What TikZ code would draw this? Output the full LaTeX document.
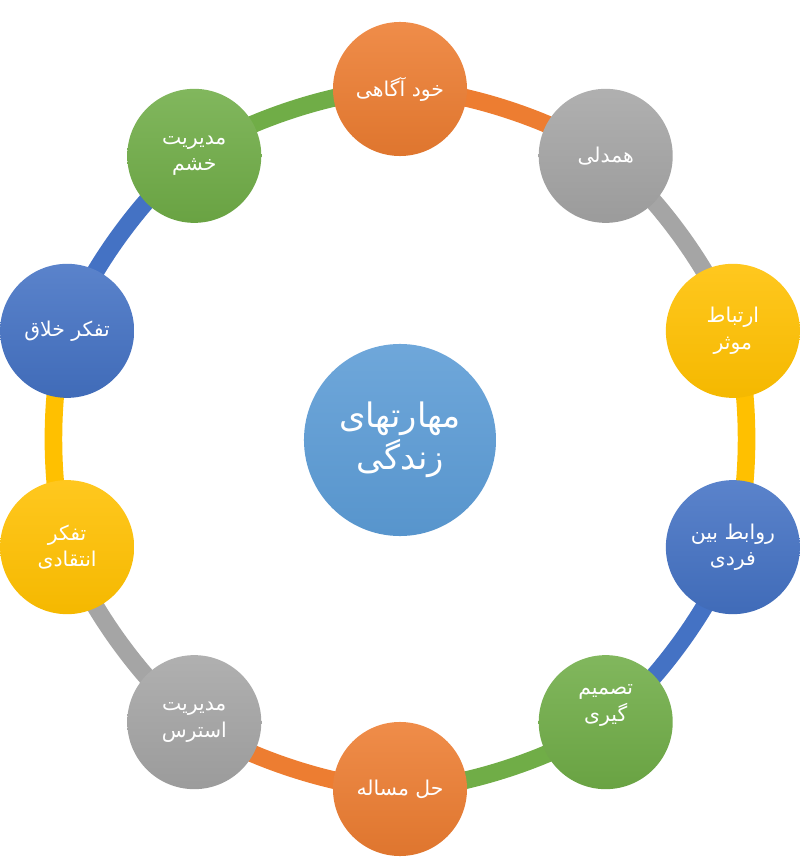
\documentclass[tikz,border=0pt]{standalone}
\usepackage{fontspec}
\newfontfamily\arabicfont[Script=Arabic]{DejaVu Sans}
\TeXXeTstate=1
\usetikzlibrary{backgrounds}
\definecolor{skorange}{HTML}{ED7D31}
\definecolor{skgray}{HTML}{A5A5A5}
\definecolor{skyellow}{HTML}{FFC000}
\definecolor{skblue}{HTML}{4472C4}
\definecolor{skgreen}{HTML}{70AD47}
\definecolor{skhub}{HTML}{5B9BD5}
\newcommand{\fatxt}[1]{\beginR #1\endR}
\tikzset{
	skill/.style = {circle, align=center, inner sep=0pt, text centered, minimum size=3.35cm, text=white, font=\arabicfont\fontsize{14.5}{19}\selectfont},
	orangeskill/.style = {skill, top color=skorange!88!white, bottom color=skorange!94!black},
	grayskill/.style = {skill, top color=skgray!88!white, bottom color=skgray!94!black},
	yellowskill/.style = {skill, top color=skyellow!88!white, bottom color=skyellow!96!black},
	blueskill/.style = {skill, top color=skblue!88!white, bottom color=skblue!94!black},
	greenskill/.style = {skill, top color=skgreen!88!white, bottom color=skgreen!94!black},
	hub/.style = {skill, minimum size=4.8cm, top color=skhub!88!white, bottom color=skhub!96!black, font=\arabicfont\fontsize{24}{30}\selectfont},
	ring/.style = {line width=0.44cm}
}

\begin{document}
\begin{tikzpicture}[x=0.025cm, y=0.025cm]
	\useasboundingbox (-400,-429) rectangle (400,439);
	% center
	\node [hub] (maharat) at (0,-1) {\fatxt{مهارتهای}\\\fatxt{زندگی}};
	% ring of skills, clockwise from the top
	\node [orangeskill] (khod) at (90:350) {\fatxt{خود آگاهی}};
	\node [grayskill] (hamdeli) at (54:350) {\fatxt{همدلی}};
	\node [yellowskill] (ertebat) at (18:350) {\fatxt{ارتباط}\\\fatxt{موثر}};
	\node [blueskill] (ravabet) at (-18:350) {\fatxt{روابط بین}\\\fatxt{فردی}};
	\node [greenskill, text depth=0.95cm] (tasmim) at (-54:350) {\fatxt{تصمیم}\\\fatxt{گیری}};
	\node [orangeskill] (hal) at (-90:350) {\fatxt{حل مساله}};
	\node [grayskill] (stress) at (-126:350) {\fatxt{مدیریت}\\\fatxt{استرس}};
	\node [yellowskill] (enteghadi) at (-162:350) {\fatxt{تفکر}\\\fatxt{انتقادی}};
	\node [blueskill] (khallagh) at (162:350) {\fatxt{تفکر خلاق}};
	\node [greenskill] (khashm) at (126:350) {\fatxt{مدیریت}\\\fatxt{خشم}};
	% ring segments behind the circles
	\begin{pgfonlayer}{background}
		\draw [ring, skorange] (khod.center) to[bend left=18, looseness=0.7] (hamdeli.center);
		\draw [ring, skgray] (hamdeli.center) to[bend left=18, looseness=0.7] (ertebat.center);
		\draw [ring, skyellow] (ertebat.center) to[bend left=18, looseness=0.7] (ravabet.center);
		\draw [ring, skblue] (ravabet.center) to[bend left=18, looseness=0.7] (tasmim.center);
		\draw [ring, skgreen] (tasmim.center) to[bend left=18, looseness=0.7] (hal.center);
		\draw [ring, skorange] (hal.center) to[bend left=18, looseness=0.7] (stress.center);
		\draw [ring, skgray] (stress.center) to[bend left=18, looseness=0.7] (enteghadi.center);
		\draw [ring, skyellow] (enteghadi.center) to[bend left=18, looseness=0.7] (khallagh.center);
		\draw [ring, skblue] (khallagh.center) to[bend left=18, looseness=0.7] (khashm.center);
		\draw [ring, skgreen] (khashm.center) to[bend left=18, looseness=0.7] (khod.center);
	\end{pgfonlayer}
\end{tikzpicture}
\end{document}
